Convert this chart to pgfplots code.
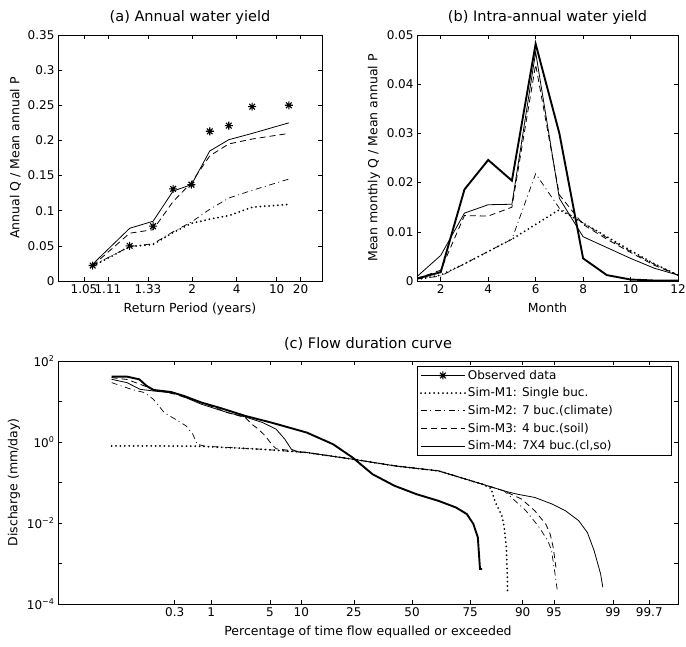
\documentclass[border=0pt]{standalone}
\usepackage{fontspec}
\setmainfont{DejaVu Sans}
\usepackage{pgfplots}
\pgfplotsset{compat=1.18}

% eight-armed asterisk, like the one in the figure
\pgfdeclareplotmark{star8}{%
  \pgfpathmoveto{\pgfqpoint{-\pgfplotmarksize}{0pt}}\pgfpathlineto{\pgfqpoint{\pgfplotmarksize}{0pt}}%
  \pgfpathmoveto{\pgfqpoint{0pt}{-\pgfplotmarksize}}\pgfpathlineto{\pgfqpoint{0pt}{\pgfplotmarksize}}%
  \pgfpathmoveto{\pgfqpoint{-.707\pgfplotmarksize}{-.707\pgfplotmarksize}}%
  \pgfpathlineto{\pgfqpoint{.707\pgfplotmarksize}{.707\pgfplotmarksize}}%
  \pgfpathmoveto{\pgfqpoint{-.707\pgfplotmarksize}{.707\pgfplotmarksize}}%
  \pgfpathlineto{\pgfqpoint{.707\pgfplotmarksize}{-.707\pgfplotmarksize}}%
  \pgfusepathqstroke}

\pgfplotsset{
  mfig/.style={scale only axis, anchor=south west,
    tick align=inside, major tick length=4pt,
    axis line style={line width=0.6pt},
    every tick/.style={black, line width=0.5pt},
    tick label style={font=\fontsize{12}{14}\selectfont},
    label style={font=\fontsize{12.5}{14}\selectfont},
    xlabel style={yshift=-3pt},
    title style={font=\fontsize{14.5}{16}\selectfont, yshift=1pt},
    scaled ticks=false,
    /pgf/number format/assume math mode=true},
  obs/.style={black, line width=1.9pt},
  m1/.style={black, line width=2pt, line cap=round, dash pattern=on 0pt off 4.4pt},
  m2/.style={black, line width=0.7pt, dash pattern=on 6pt off 3.5pt on 1pt off 3.5pt},
  m3/.style={black, line width=0.8pt, dash pattern=on 6pt off 4pt},
  m4/.style={black, line width=0.8pt},
}

\begin{document}
\begin{tikzpicture}
\useasboundingbox (0,0) rectangle (686pt,646pt);

% (a) annual yield on a normal probability scale
\begin{axis}[mfig, at={(58pt,365pt)}, width=264pt, height=246pt,
    xmin=-2.04, xmax=1.97, ymin=0, ymax=0.35,
    xtick={-1.645,-1.2816,-0.674,0,0.674,1.2816,1.645},
    xticklabels={1.05,1.11,1.33,2,4,10,20},
    ytick={0,0.05,0.1,0.15,0.2,0.25,0.3,0.35},
    yticklabel style={/pgf/number format/fixed, /pgf/number format/precision=2},
    xlabel={Return Period (years)}, ylabel={Annual Q / Mean annual P},
    title={(a) Annual water yield}]
  \addplot[m1] coordinates {(-1.513,0.021) (-0.951,0.049) (-0.596,0.052) (-0.292,0.069)
    (-0.013,0.082) (0.265,0.088) (0.554,0.093) (0.909,0.105) (1.466,0.109)};
  \addplot[m2] coordinates {(-1.513,0.022) (-0.951,0.049) (-0.596,0.053) (-0.292,0.070)
    (-0.013,0.084) (0.265,0.102) (0.554,0.118) (0.909,0.129) (1.466,0.145)};
  \addplot[m3] coordinates {(-1.513,0.022) (-0.951,0.068) (-0.596,0.073) (-0.292,0.113)
    (-0.013,0.140) (0.265,0.178) (0.554,0.195) (0.909,0.202) (1.466,0.210)};
  \addplot[m4] coordinates {(-1.513,0.024) (-0.951,0.075) (-0.596,0.085) (-0.292,0.128)
    (-0.013,0.137) (0.265,0.185) (0.554,0.201) (0.909,0.210) (1.466,0.225)};
  \addplot[only marks, mark=star8, mark size=4pt, line width=1.1pt] coordinates {
    (-1.513,0.022) (-0.951,0.050) (-0.596,0.078) (-0.292,0.131) (-0.013,0.137)
    (0.265,0.213) (0.554,0.221) (0.909,0.248) (1.466,0.250)};
\end{axis}

% (b) mean monthly yield
\begin{axis}[mfig, at={(417pt,365pt)}, width=261pt, height=246pt,
    xmin=1, xmax=12, ymin=0, ymax=0.05,
    xtick={2,4,6,8,10,12},
    ytick={0,0.01,0.02,0.03,0.04,0.05},
    yticklabel style={/pgf/number format/fixed, /pgf/number format/precision=2},
    xlabel={Month}, ylabel={Mean monthly Q / Mean annual P},
    title={(b) Intra-annual water yield}]
  \addplot[m1] coordinates {(1,0.0003) (2,0.0012) (3,0.0035) (4,0.0060) (5,0.0085) (6,0.0115)
    (7,0.0145) (8,0.0118) (9,0.0090) (10,0.0062) (11,0.0035) (12,0.0012)};
  \addplot[m2] coordinates {(1,0.0004) (2,0.0010) (3,0.0035) (4,0.0060) (5,0.0085) (6,0.0218)
    (7,0.0148) (8,0.0118) (9,0.0088) (10,0.0060) (11,0.0034) (12,0.0012)};
  \addplot[m3] coordinates {(1,0.0005) (2,0.0022) (3,0.0133) (4,0.0132) (5,0.0150) (6,0.0440)
    (7,0.0175) (8,0.0115) (9,0.0085) (10,0.0058) (11,0.0032) (12,0.0012)};
  \addplot[m4] coordinates {(1,0.0009) (2,0.0052) (3,0.0138) (4,0.0155) (5,0.0156) (6,0.0465)
    (7,0.0168) (8,0.0090) (9,0.0068) (10,0.0046) (11,0.0026) (12,0.0012)};
  \addplot[obs] coordinates {(1,0.0005) (2,0.0018) (3,0.0186) (4,0.0246) (5,0.0204) (6,0.0482)
    (7,0.0300) (8,0.0046) (9,0.0012) (10,0.0003) (11,0.0001) (12,0.0001)};
\end{axis}

% (c) flow duration curve, x = standard normal variate
\begin{axis}[mfig, at={(58pt,42pt)}, width=620pt, height=243pt,
    xmin=-4.1, xmax=3.08, ymode=log, ymin=1e-4, ymax=1e2,
    yminorticks=false,
    ytick={1e-4,1e-3,1e-2,1e-1,1,10,100},
    yticklabels={10\textsuperscript{−4},,10\textsuperscript{−2},,10\textsuperscript{0},,10\textsuperscript{2}},
    xtick={-2.748,-2.326,-1.645,-1.2816,-0.674,0,0.674,1.2816,1.645,2.326,2.748},
    xticklabels={0.3,1,5,10,25,50,75,90,95,99,99.7},
    xlabel={Percentage of time flow equalled or exceeded},
    ylabel={Discharge (mm/day)},
    title={(c) Flow duration curve},
    legend style={at={(0.99,0.98)}, anchor=north east, draw=black, line width=0.6pt,
      fill=white, font=\fontsize{12}{14}\selectfont, row sep=3pt,
      inner xsep=3pt, inner ysep=2pt},
    legend cell align=left,
    legend image code/.code={\draw[mark repeat=2,mark phase=2,#1]
      plot coordinates {(0pt,0pt) (22pt,0pt) (44pt,0pt)};}]
  \addlegendimage{obs, mark=star8, mark options={solid, line width=1.1pt, mark size=4pt}}
  \addlegendentry{Observed data\hspace*{110pt}}
  \addlegendimage{m1}\addlegendentry{Sim-M1: Single buc.}
  \addlegendimage{m2}\addlegendentry{Sim-M2: 7 buc.(climate)}
  \addlegendimage{m3}\addlegendentry{Sim-M3: 4 buc.(soil)}
  \addlegendimage{m4}\addlegendentry{Sim-M4: 7X4 buc.(cl,so)}

  \addplot[m1, forget plot] coordinates {(-3.479,0.80) (-3.0,0.80) (-2.489,0.79) (-1.727,0.66)
    (-1.219,0.55) (-0.686,0.376) (-0.203,0.258) (0.305,0.194) (0.559,0.133) (0.813,0.091)
    (0.914,0.072) (0.965,0.032) (1.041,0.015) (1.067,0.0078) (1.092,0.0025) (1.102,0.00066)
    (1.107,0.00018)};
  \addplot[m2, forget plot] coordinates {(-3.479,29.2) (-3.25,20) (-3.098,16.6) (-2.996,11.4)
    (-2.869,5.3) (-2.742,3.65) (-2.616,2.5) (-2.539,1.56) (-2.489,0.88) (-2.4,0.79)
    (-1.727,0.66) (-1.219,0.55) (-0.686,0.376) (-0.203,0.258) (0.305,0.194) (0.559,0.133)
    (0.813,0.091) (1.067,0.062) (1.32,0.020) (1.473,0.0078) (1.574,0.0036) (1.615,0.0021)
    (1.651,0.00066) (1.686,0.00019)};
  \addplot[m3, forget plot] coordinates {(-3.479,38.9) (-3.301,35) (-3.149,26.6) (-2.996,20)
    (-2.742,15.1) (-2.387,8.55) (-2.133,5.3) (-1.93,4.0) (-1.854,2.74) (-1.778,2.07)
    (-1.701,1.42) (-1.625,0.88) (-1.574,0.68) (-1.219,0.55) (-0.686,0.376) (-0.203,0.258)
    (0.305,0.194) (0.559,0.133) (0.813,0.091) (1.067,0.062) (1.27,0.0388) (1.422,0.020)
    (1.549,0.0094) (1.60,0.0053) (1.635,0.0025) (1.666,0.0008)};
  \addplot[m4, forget plot] coordinates {(-3.479,35.3) (-3.301,29.2) (-3.149,20) (-2.996,18.2)
    (-2.742,16.0) (-2.438,8.55) (-2.133,5.3) (-1.93,4.16) (-1.727,3.0) (-1.574,2.07)
    (-1.473,1.17) (-1.397,0.66) (-1.32,0.57) (-1.219,0.55) (-0.686,0.376) (-0.203,0.258)
    (0.305,0.194) (0.559,0.133) (0.813,0.091) (1.067,0.062) (1.219,0.0515) (1.422,0.0427)
    (1.625,0.0292) (1.778,0.020) (1.93,0.0114) (2.031,0.0058) (2.108,0.0021) (2.184,0.00055)
    (2.209,0.00026)};
  \addplot[obs, forget plot] coordinates {(-3.479,41.1) (-3.301,41.1) (-3.159,35.3) (-3.073,24.2)
    (-2.996,19.3) (-2.793,17.2) (-2.641,13.7) (-2.438,9.4) (-2.235,7.07) (-1.93,4.4)
    (-1.625,3.0) (-1.219,1.71) (-0.914,0.88) (-0.686,0.41) (-0.457,0.16) (-0.203,0.083)
    (0.051,0.0515) (0.305,0.0353) (0.508,0.0242) (0.635,0.0166) (0.711,0.0094) (0.762,0.0044)
    (0.787,0.00073) (0.813,0.00073)};
\end{axis}
\end{tikzpicture}
\end{document}
